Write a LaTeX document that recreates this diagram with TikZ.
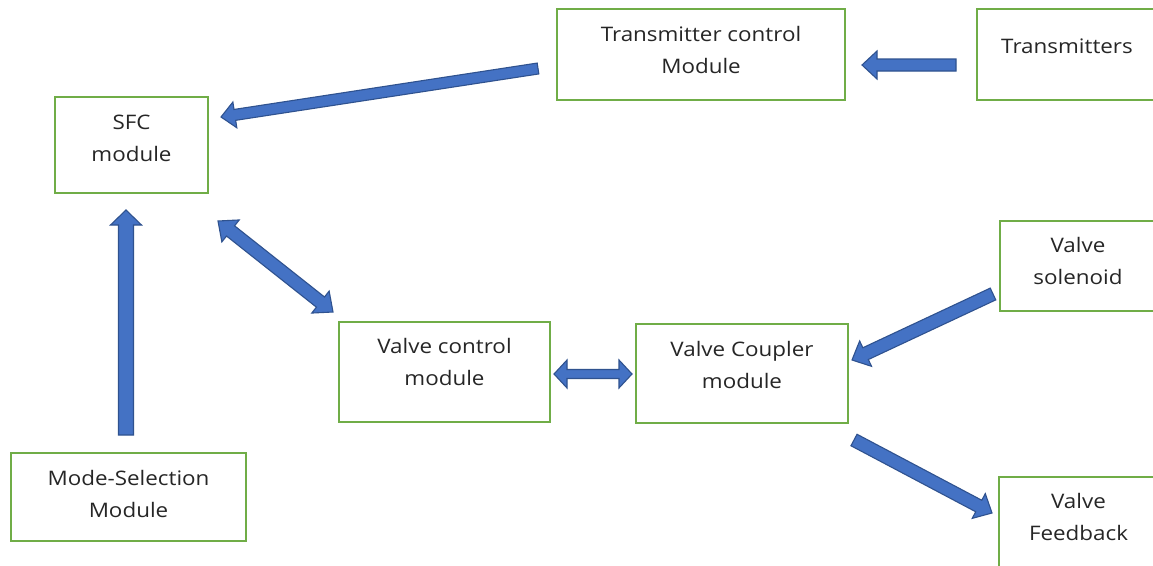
\documentclass[tikz,border=0pt]{standalone}
\usepackage{fontspec}
\setmainfont{Open Sans}[FakeStretch=1.12]
\usetikzlibrary{calc}
\definecolor{boxgreen}{HTML}{70AD47}
\definecolor{arrowblue}{HTML}{4472C4}
\definecolor{arrowdark}{HTML}{2F528F}
\definecolor{txt}{HTML}{262626}
\tikzset{
  box/.style={draw=boxgreen, line width=2.4pt, fill=white, inner sep=0pt},
  lbl/.style={align=center, text=txt, font=\fontsize{20}{32}\selectfont, inner sep=0pt},
  barrow/.style={fill=arrowblue, draw=arrowdark, line width=1.1pt, line join=miter}
}
\newcommand\blockarrow[5]{%
  \coordinate (ba-n) at ($(#2)!#5!(#1)$);
  \filldraw[barrow] ($(#1)!#3!90:(#2)$) -- ($(ba-n)!#3!90:(#2)$) -- ($(ba-n)!#4!90:(#2)$) -- (#2)
    -- ($(ba-n)!#4!-90:(#2)$) -- ($(ba-n)!#3!-90:(#2)$) -- ($(#1)!#3!-90:(#2)$) -- cycle;}
\newcommand\dblockarrow[5]{%
  \coordinate (ba-a) at ($(#1)!#5!(#2)$);
  \coordinate (ba-b) at ($(#2)!#5!(#1)$);
  \filldraw[barrow] (#1) -- ($(ba-a)!#4!90:(#2)$) -- ($(ba-a)!#3!90:(#2)$) -- ($(ba-b)!#3!90:(#2)$)
    -- ($(ba-b)!#4!90:(#2)$) -- (#2) -- ($(ba-b)!#4!-90:(#2)$) -- ($(ba-b)!#3!-90:(#2)$)
    -- ($(ba-a)!#3!-90:(#2)$) -- ($(ba-a)!#4!-90:(#2)$) -- cycle;}
\begin{document}
\begin{tikzpicture}[x=1pt,y=-1pt]
\clip (0,0) rectangle (1153,565);
\fill[white] (0,0) rectangle (1153,565);
% boxes
\node[box, minimum width=288pt, minimum height=91pt] (tc) at (701,54.5) {};
\node[lbl] (tc-t) at (701,50) {Transmitter control\\Module};
\node[box, minimum width=180pt, minimum height=91pt] (tr) at (1067,54.5) {};
\node[lbl] (tr-t) at (1067,46) {Transmitters};
\node[box, minimum width=153pt, minimum height=96pt] (sfc) at (131.5,145) {};
\node[lbl] (sfc-t) at (131.5,138) {SFC\\module};
\node[box, minimum width=211pt, minimum height=100pt] (vc) at (444.5,372) {};
\node[lbl] (vc-t) at (444.5,362) {Valve control\\module};
\node[box, minimum width=212pt, minimum height=99pt] (vcp) at (742,373.5) {};
\node[lbl] (vcp-t) at (742,365) {Valve Coupler\\module};
\node[box, minimum width=156pt, minimum height=90pt] (vs) at (1078,266) {};
\node[lbl] (vs-t) at (1078,261) {Valve\\solenoid};
\node[box, minimum width=235pt, minimum height=88pt] (ms) at (128.5,497) {};
\node[lbl] (ms-t) at (128.5,493.5) {Mode-Selection\\Module};
\node[box, minimum width=159pt, minimum height=96pt] (vf) at (1078.5,525) {};
\node[lbl] (vf-t) at (1078.5,517) {Valve\\Feedback};
% arrow end points
\coordinate (a1s) at (956,65);   \coordinate (a1e) at (862,65);
\coordinate (a2s) at (538,68.5); \coordinate (a2e) at (221,117);
\coordinate (a3s) at (218,221);  \coordinate (a3e) at (333,312);
\coordinate (a4s) at (126,435);  \coordinate (a4e) at (126,210);
\coordinate (a5s) at (554,374);  \coordinate (a5e) at (632,374);
\coordinate (a6s) at (993,294);  \coordinate (a6e) at (852,360);
\coordinate (a7s) at (854,440);  \coordinate (a7e) at (992,513);
% arrows
\blockarrow{a1s}{a1e}{6pt}{14pt}{15pt}
\blockarrow{a2s}{a2e}{5.5pt}{13pt}{14pt}
\dblockarrow{a3s}{a3e}{6.5pt}{14pt}{16pt}
\blockarrow{a4s}{a4e}{7.5pt}{15.5pt}{15pt}
\dblockarrow{a5s}{a5e}{4.5pt}{14pt}{13pt}
\blockarrow{a6s}{a6e}{6.5pt}{14pt}{15pt}
\blockarrow{a7s}{a7e}{6.5pt}{14pt}{15pt}
\end{tikzpicture}
\end{document}
